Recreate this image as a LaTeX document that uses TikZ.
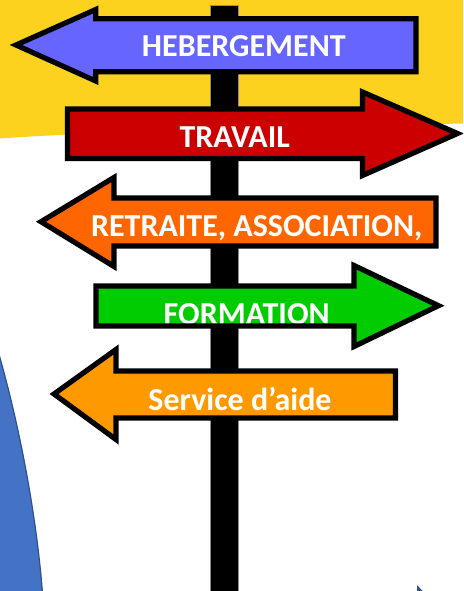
\documentclass[tikz,border=0pt]{standalone}
\usepackage{fontspec}
\setmainfont{Carlito}
\definecolor{bgyellow}{HTML}{FCD21E}
\definecolor{hebblue}{HTML}{6666FF}
\definecolor{travred}{HTML}{CC0000}
\definecolor{retorange}{HTML}{FF6600}
\definecolor{formgreen}{HTML}{00CC00}
\definecolor{servorange}{HTML}{FF9900}
\definecolor{sideblue}{HTML}{4472C4}
\definecolor{sideedge}{HTML}{2F528F}
\tikzset{
  signfill/.style={fill=#1,draw=none},
  signline/.style={draw=black,line width=5.2pt,miter limit=10,line join=miter},
  signtext/.style={text=white,font=\fontsize{32}{34}\selectfont\bfseries,anchor=base,inner sep=0pt},
  postshape/.style={fill=black,draw=black!45,line width=0.7pt}
}
\begin{document}
\begin{tikzpicture}[x=1pt,y=-1pt]
\useasboundingbox (0,0) rectangle (463,591);
\clip (0,0) rectangle (463,591);
\fill[white] (0,0) rectangle (463,591);
% yellow background
\fill[bgyellow] (0,0) -- (463,0) -- (463,123.5) .. controls (300,127) and (120,130) .. (0,138.5) -- cycle;
% blue shapes
\path[fill=sideblue,draw=sideedge,line width=1.2pt] (-2,351) .. controls (18,420) and (36,510) .. (42.5,593) -- (-2,593) -- cycle;
\path[fill=sideedge] (417,585) -- (423,591.5) -- (417,591.5) -- cycle;
% post
\path[postshape] (210.3,5.7) rectangle (238.5,595);
% HEBERGEMENT
\def\pa{(416,18.7) -- (95.7,18.7) -- (95.7,9.5) -- (16,45) -- (95.7,81) -- (95.7,71.7) -- (416,71.7) -- cycle}
\path[signfill=hebblue] \pa;
\path[signline] \pa;
\node[signtext] (hebergement) at (243.8,56.8) {HEBERGEMENT};
% TRAVAIL
\def\pb{(67.5,109) -- (362.5,109) -- (362.5,92) -- (457.5,133.5) -- (362.5,175.5) -- (362.5,158.5) -- (67.5,158.5) -- cycle}
\path[signfill=travred] \pb;
\path[signline] \pb;
\node[signtext] (travail) at (234.7,147.6) {TRAVAIL};
% RETRAITE
\def\pc{(436,198) -- (114,198) -- (114,177.5) -- (41,221.7) -- (114,266.5) -- (114,246) -- (436,246) -- cycle}
\path[signfill=retorange] \pc;
\path[signline] \pc;
\node[signtext] (retraite) at (256.7,236) {RETRAITE, ASSOCIATION,};
% FORMATION
\def\pd{(96,286) -- (354,286) -- (354,265.5) -- (438.5,305.7) -- (354,346.5) -- (354,326) -- (96,326) -- cycle}
\path[signfill=formgreen] \pd;
\node[signtext] (formation) at (246.7,324) {FORMATION};
\path[signline] \pd;
% Service
\def\pe{(395.5,371) -- (116,371) -- (116,349.5) -- (54,394) -- (116,439.5) -- (116,418) -- (395.5,418) -- cycle}
\path[signfill=servorange] \pe;
\path[signline] \pe;
\node[signtext] (service) at (240,410) {Service d’aide};
\end{tikzpicture}
\end{document}
